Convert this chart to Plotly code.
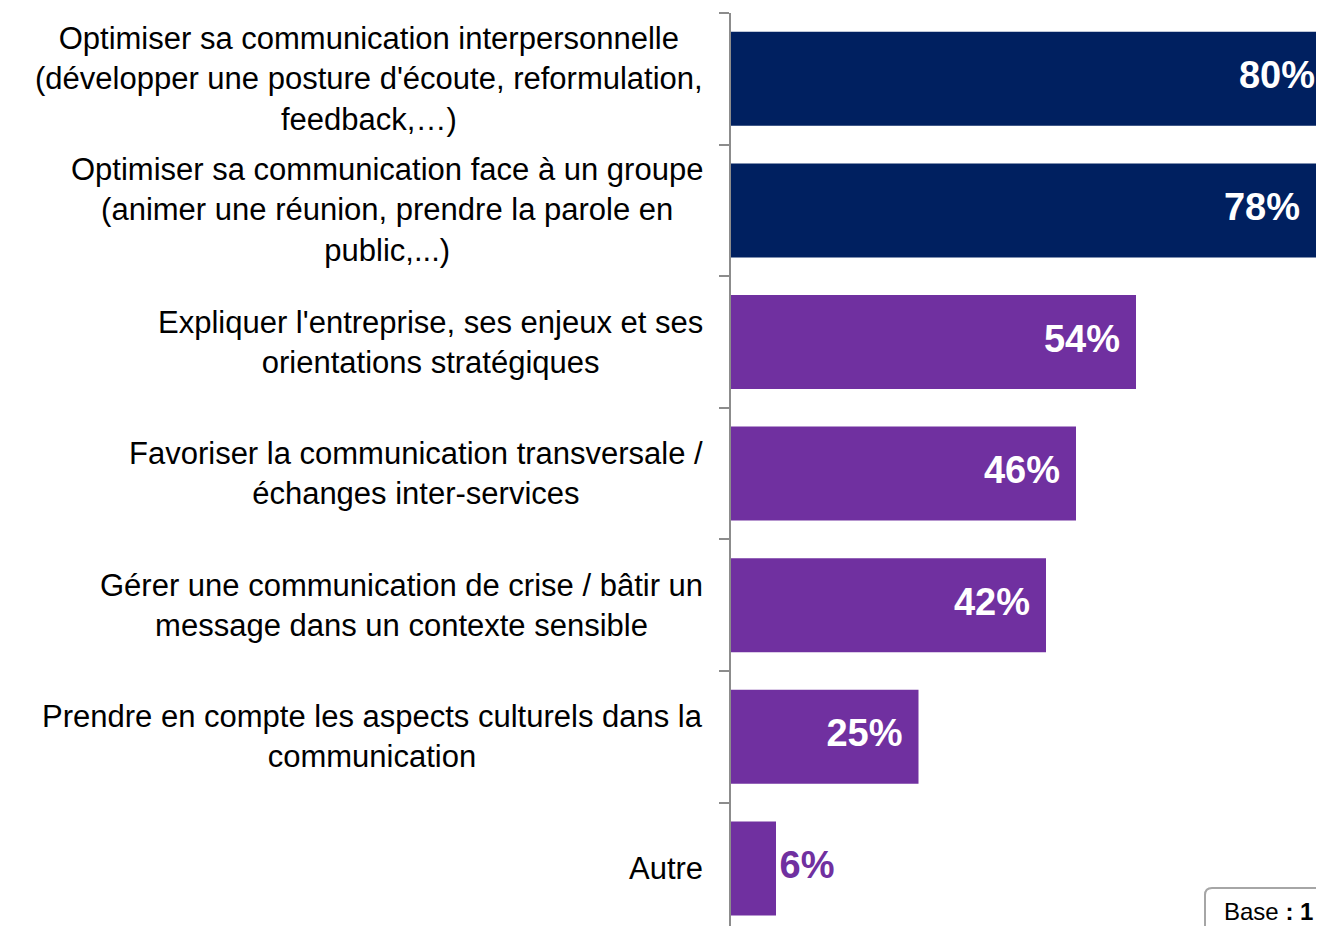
import plotly.graph_objects as go

# Data (top to bottom in the reference)
categories = [
    "Optimiser sa communication interpersonnelle<br>(développer une posture d'écoute, reformulation,<br>feedback,…)",
    "Optimiser sa communication face à un groupe<br>(animer une réunion, prendre la parole en<br>public,...)",
    "Expliquer l'entreprise, ses enjeux et ses<br>orientations stratégiques",
    "Favoriser la communication transversale /<br>échanges inter-services",
    "Gérer une communication de crise / bâtir un<br>message dans un contexte sensible",
    "Prendre en compte les aspects culturels dans la<br>communication",
    "Autre",
]
values = [80, 78, 54, 46, 42, 25, 6]
value_labels = ["80%", "78%", "54%", "46%", "42%", "25%", "6%"]
bar_colors = ["#002060", "#002060", "#7030A0", "#7030A0", "#7030A0", "#7030A0", "#7030A0"]
label_colors = ["white", "white", "white", "white", "white", "white", "#7030A0"]
label_positions = ["middle left"] * 6 + ["middle right"]
label_offsets = [24] * 6 + [4.0]  # invisible marker size drives text offset
base_text = "Base <b>: 1</b>"

# plot from bottom to top
cats = categories[::-1]
vals = values[::-1]

FONT = "Liberation Sans, Arial, sans-serif"

fig = go.Figure()
fig.add_trace(go.Bar(
    y=cats, x=vals, orientation="h",
    marker=dict(color=bar_colors[::-1], line=dict(width=0)),
    hoverinfo="skip", showlegend=False,
))
fig.add_trace(go.Scatter(
    y=cats, x=vals, mode="markers+text",
    text=value_labels[::-1],
    textposition=label_positions[::-1],
    textfont=dict(family=FONT, size=38, color=label_colors[::-1], weight="bold"),
    marker=dict(size=label_offsets[::-1], opacity=0),
    cliponaxis=True, hoverinfo="skip", showlegend=False,
))

for c in categories:
    fig.add_annotation(
        x=0, xref="paper", y=c, yref="y", text=c, showarrow=False,
        xanchor="right", yanchor="middle", align="center", xshift=-26,
        font=dict(family=FONT, size=31, color="black"),
    )

OFF = 8  # page body margin
W, H = 1308, 918
L, T = 731 - OFF, 13 - OFF
pw, ph = W - L, H - T
bottom_px = OFF + H  # page pixel of plot bottom


def px(xp):
    return (xp - OFF - L) / pw


def py(yp):
    return (bottom_px - yp) / ph

# Base box (rounded corners, clipped at edge)
x0, y0, x1, y1 = 1205, 888, 1340, 940
r = 7
path = (
    f"M {px(x0)},{py(y1)} L {px(x0)},{py(y0 + r)} "
    f"Q {px(x0)},{py(y0)} {px(x0 + r)},{py(y0)} "
    f"L {px(x1 - r)},{py(y0)} Q {px(x1)},{py(y0)} {px(x1)},{py(y0 + r)} "
    f"L {px(x1)},{py(y1)}"
)
fig.add_shape(type="path", xref="paper", yref="paper", path=path,
              line=dict(color="#A6A6A6", width=2), fillcolor="white")
fig.add_annotation(x=px(1222), y=py(911), xref="paper", yref="paper",
                   text=base_text, showarrow=False, xanchor="left", yanchor="middle",
                   font=dict(family=FONT, size=24, color="black"))

n = len(categories)
cat_px = 131.6
fig.update_layout(
    width=W, height=H,
    margin=dict(l=L, r=0, t=T, b=0, pad=0),
    plot_bgcolor="white", paper_bgcolor="white",
    bargap=0.286,
    xaxis=dict(range=[0, pw / 7.5], visible=False, fixedrange=True),
    yaxis=dict(
        type="category", categoryorder="array", categoryarray=cats,
        range=[n - 0.5 - ph / cat_px, n - 0.5],
        showticklabels=False, ticks="outside", ticklen=10, tickwidth=2,
        tickcolor="#8C8C8C", tickson="boundaries",
        showline=True, linecolor="#8C8C8C", linewidth=2,
        showgrid=False, zeroline=False, fixedrange=True,
    ),
)

fig.write_html("out.html")
